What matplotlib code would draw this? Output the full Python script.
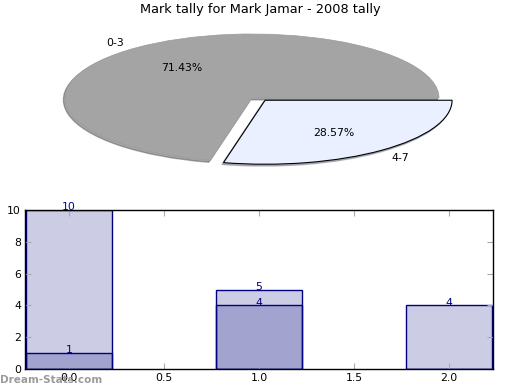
import matplotlib
matplotlib.use("Agg")
import matplotlib.pyplot as plt
import numpy as np

title = "Mark tally for Mark Jamar - 2008 tally"
pie_labels = ["0-3", "4-7"]
pie_values = [10, 4]
pie_colors = ["#a4a4a4", "#eaf0ff"]
pie_explode = [0, 0.1]

bar_x = [0, 1, 2]
bar_back = [10, 5, 4]
bar_front = [1, 4, 0]

plt.rcParams["font.family"] = "DejaVu Sans"
fig = plt.figure(figsize=(5.2, 3.9), dpi=100)

# pie axes (elliptical pie)
W, H = 520, 390
cx, cy, rx, ry = 252, 98, 187, 64
top_px, bot_px = 20, 180
axp = fig.add_axes([0, (H - bot_px) / H, 1, (bot_px - top_px) / H])
wedges, texts, autotexts = axp.pie(pie_values, labels=pie_labels, colors=pie_colors,
                                   explode=pie_explode, autopct="%.2f%%",
                                   shadow={"ox": -0.006, "oy": -0.02, "shade": 0.5},
                                   startangle=0, textprops=dict(fontsize=7.8))
wedges[0].set_edgecolor("#9a9a9a")
wedges[0].set_linewidth(0.5)
wedges[1].set_edgecolor("black")
wedges[1].set_linewidth(0.8)
wedges[1].set_center((0.07, -0.035))
axp.set_aspect("auto")
axp.set_xlim(-cx / rx, (W - cx) / rx)
axp.set_ylim(-(bot_px - cy) / ry, (cy - top_px) / ry)
axp.axis("off")

fig.text(260 / W, 1 - 10 / H, title, ha="center", va="center", fontsize=9.3)

# bar axes
axb = fig.add_axes([25 / W, (H - 369) / H, 468 / W, 159 / H])
navy = "#000080"
fc = (0, 0, 0.5, 0.2)
axb.bar(bar_x, bar_back, width=0.45, align="center", color=fc, edgecolor=navy, linewidth=1)
axb.bar(bar_x, bar_front, width=0.45, align="center", color=fc, edgecolor=navy, linewidth=1)
for xs, ys in ((bar_x, bar_back), (bar_x, bar_front)):
    for x, y in zip(xs, ys):
        if y > 0:
            axb.text(x, y - 0.15, str(y), ha="center", va="bottom", color=navy, fontsize=7.8)
axb.set_xlim(-0.23, 2.23)
axb.set_ylim(0, 10)
axb.set_xticks([0, 0.5, 1, 1.5, 2])
axb.set_yticks([0, 2, 4, 6, 8, 10])
axb.tick_params(direction="in", top=True, right=True, length=4, color="#aaaaaa",
                labelsize=7.8, pad=3)
for s in axb.spines.values():
    s.set_linewidth(1)

fig.text(0, 1 - 380 / H, "Dream-Stats.com", ha="left", va="center", fontsize=7.5,
         weight="bold", color="#909090", alpha=0.9)

fig.savefig("out.png", dpi=100)
